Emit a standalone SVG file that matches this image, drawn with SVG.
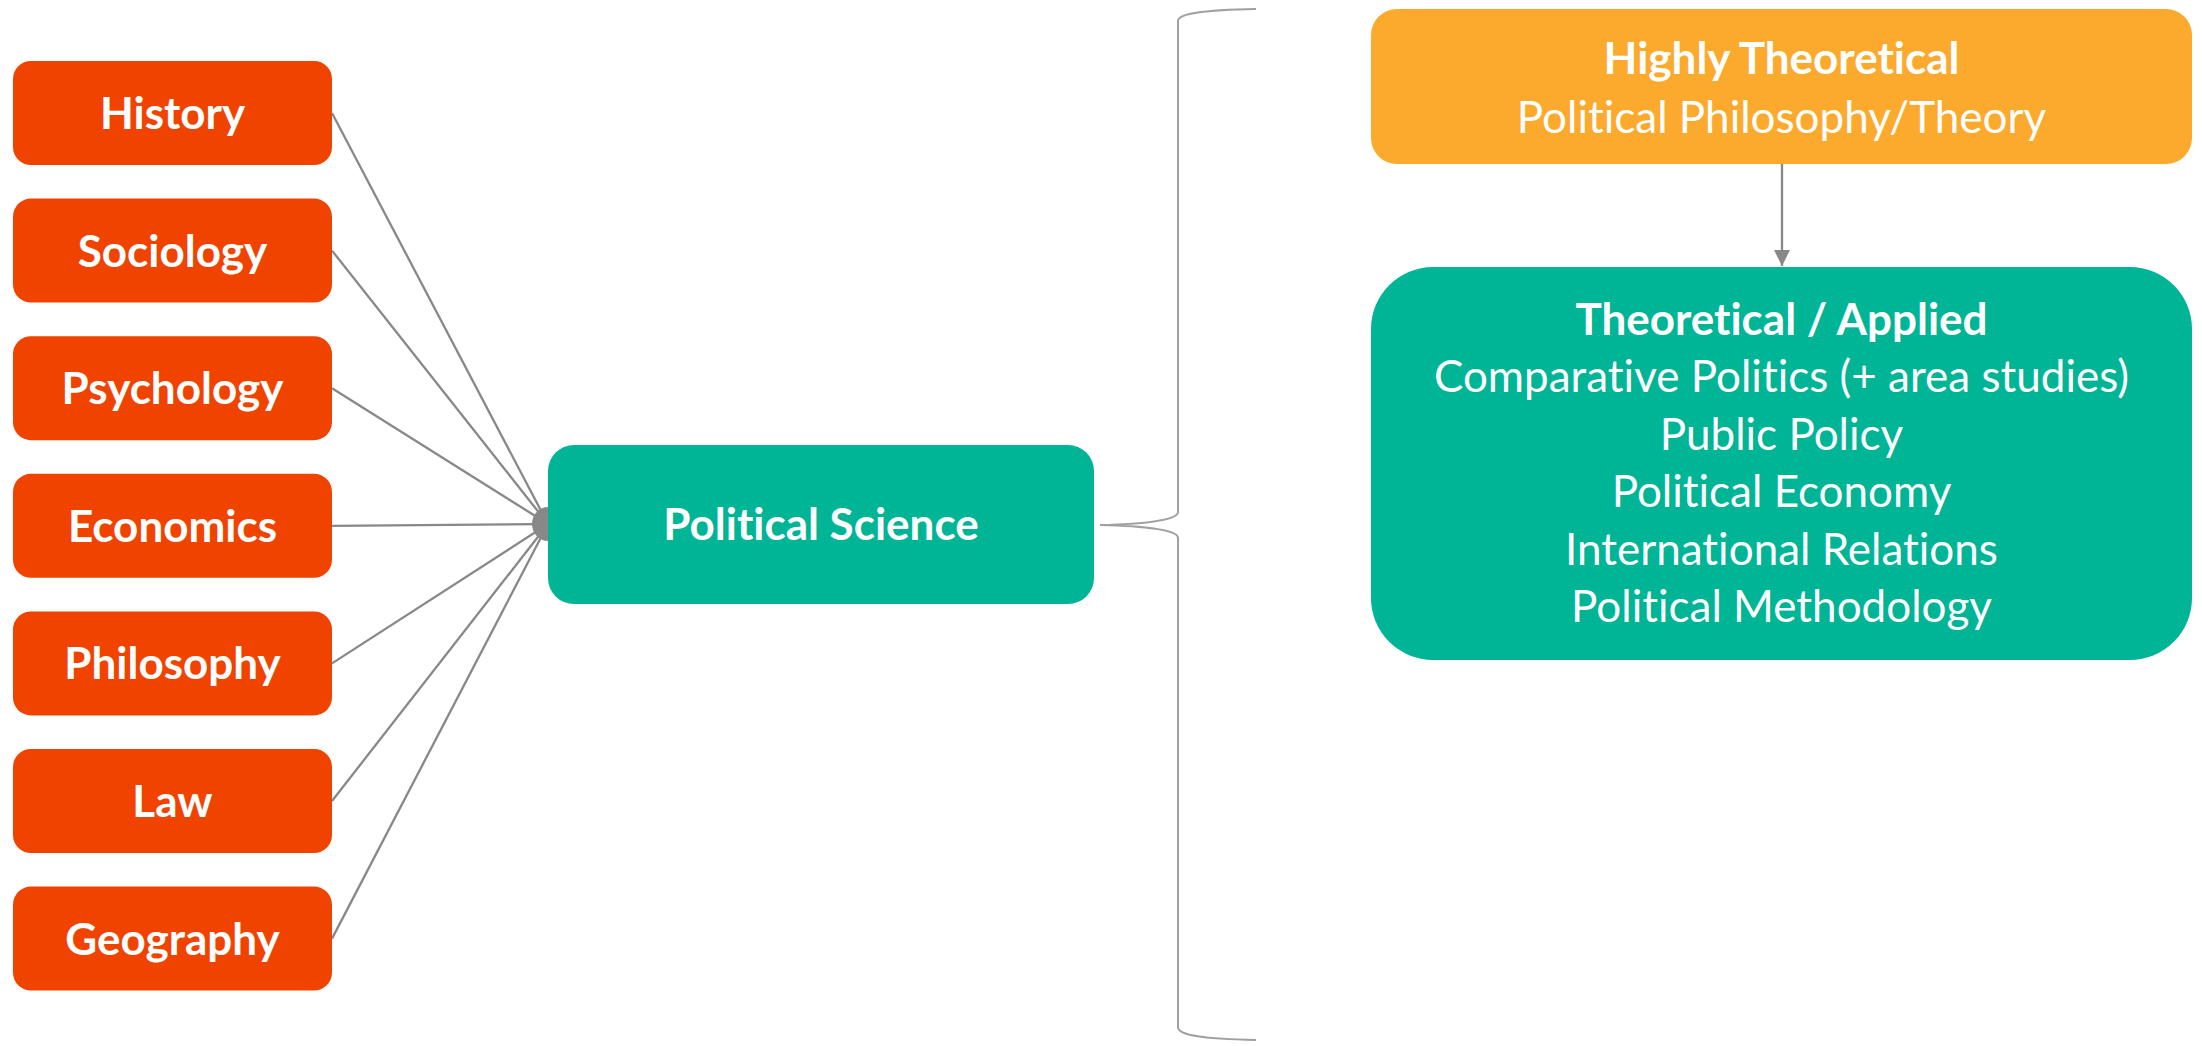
<svg xmlns="http://www.w3.org/2000/svg" width="2202" height="1046" viewBox="0 0 2202 1046">
<defs>
<style>
.disc{fill:#F04300}
.ps{fill:#00B496}
.ht{fill:#FCAA2D}
.t{font-family:Lato,"Liberation Sans",sans-serif;fill:#ffffff;text-anchor:middle;font-size:44px;font-variant-ligatures:none;font-feature-settings:"liga" 0}
.b{font-weight:bold}
.conn{stroke:#888888;stroke-width:2.3;fill:none}
.brace{stroke:#a0a0a0;stroke-width:2;fill:none}
</style>
<marker id="arr" markerUnits="userSpaceOnUse" markerWidth="16" markerHeight="16" viewBox="0 0 16 16" refX="16" refY="8" orient="auto">
<path d="M0,0 L16,8 L0,16 z" fill="#888888"/>
</marker>
</defs>
<rect width="2202" height="1046" fill="#ffffff"/>
<g id="connectors">
<line class="conn" x1="332" y1="113" x2="548" y2="524"/>
<line class="conn" x1="332" y1="250.6" x2="548" y2="524"/>
<line class="conn" x1="332" y1="388.2" x2="548" y2="524"/>
<line class="conn" x1="332" y1="525.8" x2="548" y2="524"/>
<line class="conn" x1="332" y1="663.4" x2="548" y2="524"/>
<line class="conn" x1="332" y1="801" x2="548" y2="524"/>
<line class="conn" x1="332" y1="938.6" x2="548" y2="524"/>
<ellipse cx="548" cy="524" rx="16" ry="17" fill="#888888"/>
<path class="brace" d="M1256,9 C1200,10 1178,14 1178,21 L1178,512 C1178,520 1145,524 1100,525 C1145,526 1178,530 1178,538 L1178,1027 C1178,1035 1200,1039 1256,1040"/>
<line class="conn" x1="1782" y1="164" x2="1782" y2="266" marker-end="url(#arr)"/>
</g>
<g id="history"><rect class="disc" x="13" y="61" width="319" height="104" rx="18"/><text class="t b" x="172.5" y="129">History</text></g>
<g id="sociology"><rect class="disc" x="13" y="198.6" width="319" height="104" rx="18"/><text class="t b" x="172.5" y="266.6">Sociology</text></g>
<g id="psychology"><rect class="disc" x="13" y="336.2" width="319" height="104" rx="18"/><text class="t b" x="172.5" y="404.2">Psychology</text></g>
<g id="economics"><rect class="disc" x="13" y="473.8" width="319" height="104" rx="18"/><text class="t b" x="172.5" y="541.8">Economics</text></g>
<g id="philosophy"><rect class="disc" x="13" y="611.4" width="319" height="104" rx="18"/><text class="t b" x="172.5" y="679.4">Philosophy</text></g>
<g id="law"><rect class="disc" x="13" y="749" width="319" height="104" rx="18"/><text class="t b" x="172.5" y="817">Law</text></g>
<g id="geography"><rect class="disc" x="13" y="886.6" width="319" height="104" rx="18"/><text class="t b" x="172.5" y="954.6">Geography</text></g>
<g id="political-science"><rect class="ps" x="548" y="445" width="546" height="159" rx="26"/><text class="t b" x="821" y="540">Political Science</text></g>
<g id="highly-theoretical"><rect class="ht" x="1371" y="9" width="821" height="155" rx="26"/>
<text class="t b" x="1781.5" y="74">Highly Theoretical</text>
<text class="t" x="1781.5" y="132.7">Political Philosophy/Theory</text></g>
<g id="theoretical-applied"><rect class="ps" x="1371" y="267" width="821" height="393" rx="62"/>
<text class="t b" x="1781.5" y="335">Theoretical / Applied</text>
<text class="t" x="1781.5" y="392">Comparative Politics (+ area studies)</text>
<text class="t" x="1781.5" y="450">Public Policy</text>
<text class="t" x="1781.5" y="507">Political Economy</text>
<text class="t" x="1781.5" y="565">International Relations</text>
<text class="t" x="1781.5" y="622">Political Methodology</text></g>
</svg>
